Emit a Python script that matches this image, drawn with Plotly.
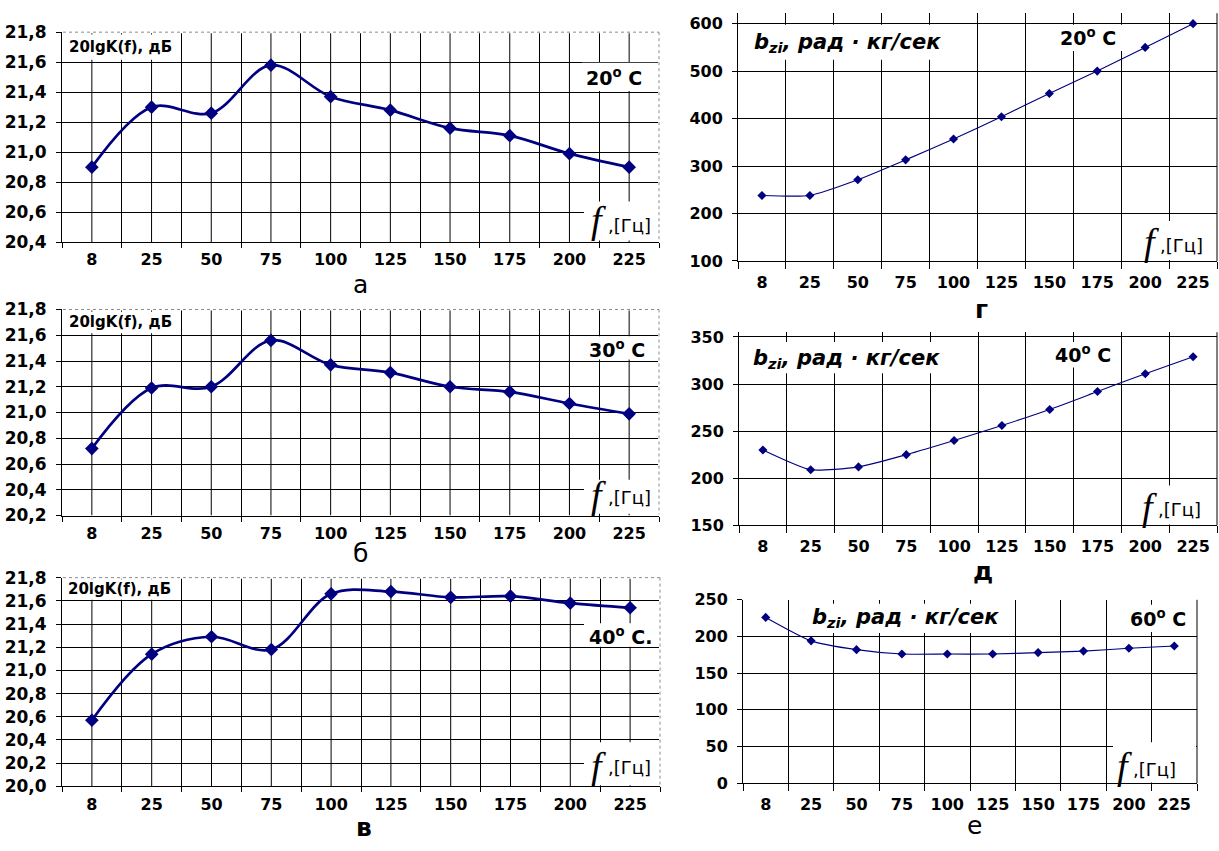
import plotly.graph_objects as go

W, H = 1219, 851
NAVY = "#000080"
FONT = "DejaVu Sans"

# Frequency categories, Hz
FREQ_HZ = ["8", "25", "50", "75", "100", "125", "150", "175", "200", "225"]

# 20lgK(f), dB at 20, 30 and 40 degrees C
GAIN_20C = [20.90, 21.30, 21.26, 21.58, 21.37, 21.28, 21.16, 21.11, 20.99, 20.90]
GAIN_30C = [20.72, 21.19, 21.20, 21.56, 21.37, 21.31, 21.20, 21.16, 21.07, 20.99]
GAIN_40C = [20.57, 21.14, 21.29, 21.18, 21.66, 21.68, 21.63, 21.64, 21.58, 21.54]

# b_zi, rad*kg/s at 20, 40 and 60 degrees C
BZ_20C = [238, 238, 271, 313, 357, 404, 453, 500, 550, 600]
BZ_40C = [230, 209, 212, 225, 240, 256, 273, 292, 311, 329]
BZ_60C = [226, 194, 182, 176, 176, 176, 178, 180, 184, 187]

# y tick values
GAIN_TICKS_A = [20.4, 20.6, 20.8, 21.0, 21.2, 21.4, 21.6, 21.8]
GAIN_TICKS_B = [20.2, 20.4, 20.6, 20.8, 21.0, 21.2, 21.4, 21.6, 21.8]
GAIN_TICKS_V = [20.0, 20.2, 20.4, 20.6, 20.8, 21.0, 21.2, 21.4, 21.6, 21.8]
BZ_TICKS_G = [100, 200, 300, 400, 500, 600]
BZ_TICKS_D = [150, 200, 250, 300, 350]
BZ_TICKS_E = [0, 50, 100, 150, 200, 250]

GAIN_LABEL = "20lgK(f), дБ"
BZ_LABEL = "b<sub>zi</sub>, рад · кг/сек"


def fx(v):
    return v / W


def fy(v):
    return 1 - v / H


panels = [
    dict(values=GAIN_20C, ticks=GAIN_TICKS_A, fmt=".1f", plot=(62, 22.7, 659, 237.7),
         yrange=(20.4, 21.8), left=True, temp="20<sup>o</sup> C", letter="а", letter_bold=False,
         letter_pos=(360, 281), name_box=(63, 25, 181, 51), name_pos=(67, 38),
         temp_box=(582, 54, 658, 83), temp_pos=(614, 69),
         f_box=(584, 196, 658, 236), f_pos=(598, 215), hz_pos=(606, 221)),
    dict(values=GAIN_30C, ticks=GAIN_TICKS_B, fmt=".1f", plot=(62, 306.7, 659, 517.7),
         yrange=(20.2, 21.8), left=True, temp="30<sup>o</sup> C", letter="б", letter_bold=False,
         letter_pos=(360, 557), name_box=(63, 309, 181, 331), name_pos=(67, 320),
         temp_box=(582, 334, 658, 358), temp_pos=(617, 347),
         f_box=(584, 481, 658, 516), f_pos=(598, 497), hz_pos=(606, 499)),
    dict(values=GAIN_40C, ticks=GAIN_TICKS_V, fmt=".1f", plot=(62, 581.3, 660, 795),
         yrange=(20.0, 21.8), left=True, temp="40<sup>o</sup> C.", letter="в", letter_bold=True,
         letter_pos=(364, 837), name_box=(63, 583, 179, 604), name_pos=(66, 593),
         temp_box=(584, 628, 659, 652), temp_pos=(620, 641),
         f_box=(584, 750, 659, 794), f_pos=(598, 774), hz_pos=(606, 776)),
    dict(values=BZ_20C, ticks=BZ_TICKS_G, fmt="d", plot=(738, 3.3, 1217, 257),
         yrange=(100, 622), left=False, temp="20<sup>o</sup> C", letter="г", letter_bold=True,
         letter_pos=(981, 307), name_box=(739, 15, 960, 51), name_pos=(752, 34),
         temp_box=(1052, 15, 1125, 42), temp_pos=(1088, 28),
         f_box=(1139, 216, 1216, 256), f_pos=(1151, 238), hz_pos=(1158, 241)),
    dict(values=BZ_40C, ticks=BZ_TICKS_D, fmt="d", plot=(739, 330, 1217, 527.7),
         yrange=(150, 355), left=False, temp="40<sup>o</sup> C", letter="д", letter_bold=True,
         letter_pos=(983, 575), name_box=(740, 340, 955, 372), name_pos=(751, 357),
         temp_box=(1047, 340, 1120, 366), temp_pos=(1083, 352),
         f_box=(1139, 487, 1216, 527), f_pos=(1149, 509), hz_pos=(1156, 512)),
    dict(values=BZ_60C, ticks=BZ_TICKS_E, fmt="d", plot=(743, 604, 1197, 791.7),
         yrange=(0, 250), left=False, temp="60<sup>o</sup> C", letter="е", letter_bold=False,
         letter_pos=(974, 835), name_box=(803, 608, 1002, 638), name_pos=(810, 623),
         temp_box=(1122, 609, 1195, 637), temp_pos=(1158, 623),
         f_box=(1113, 750, 1196, 791), f_pos=(1124, 774), hz_pos=(1131, 778)),
]

fig = go.Figure()
shapes = []
annotations = []
layout = {}

for i, p in enumerate(panels, start=1):
    xa = "x" if i == 1 else f"x{i}"
    ya = "y" if i == 1 else f"y{i}"
    x0, y0, x1, y1 = p["plot"]
    left = p["left"]
    ylo, yhi = p["yrange"]

    fig.add_trace(go.Scatter(
        x=FREQ_HZ, y=p["values"], xaxis=xa, yaxis=ya,
        mode="lines+markers", showlegend=False, cliponaxis=False,
        line=dict(color=NAVY, width=2.7 if left else 1.1, shape="spline",
                  smoothing=1.0 if left else 0.55),
        marker=dict(symbol="diamond", size=10.5 if left else 7, color=NAVY),
    ))

    x_font = dict(family=FONT, size=16, color="black", weight="bold")
    y_font = dict(family=FONT, size=17 if left else 16, color="black", weight="bold")
    layout["xaxis" if i == 1 else f"xaxis{i}"] = dict(
        domain=[fx(x0), fx(x1)], anchor=ya, type="category",
        categoryorder="array", categoryarray=FREQ_HZ, range=[-0.5, len(FREQ_HZ) - 0.5],
        tickson="boundaries", ticks="outside", ticklen=5 if left else 7,
        tickcolor="black", tickwidth=1,
        showgrid=True, gridcolor="black", gridwidth=1,
        showline=True, linecolor="black", linewidth=1,
        tickfont=x_font, ticklabelstandoff=3 if left else 7, fixedrange=True,
    )
    layout["yaxis" if i == 1 else f"yaxis{i}"] = dict(
        domain=[fy(y1), fy(y0)], anchor=xa, range=[ylo, yhi],
        tickmode="array", tickvals=p["ticks"], tickformat=p["fmt"],
        ticks="outside", ticklen=5, tickcolor="black", tickwidth=1,
        showgrid=True, gridcolor="black", gridwidth=1, zeroline=False,
        showline=True, linecolor="black", linewidth=1,
        tickfont=y_font, ticklabelstandoff=6, fixedrange=True,
    )

    # extra vertical grid through the category centres on the gain plots
    if left:
        for k, _cat in enumerate(FREQ_HZ):
            shapes.append(dict(type="line", xref=xa, yref=ya,
                               x0=k, x1=k, y0=ylo, y1=yhi, layer="below",
                               line=dict(color="black", width=1)))
        # dotted plot-area frame on top and right
        for col, dash, wid in (("white", "solid", 2), ("#8c8c8c", "dot", 1)):
            shapes.append(dict(type="line", xref="paper", yref="paper",
                               x0=fx(x0 + 1), x1=fx(x1), y0=fy(y0), y1=fy(y0),
                               line=dict(color=col, width=wid, dash=dash)))
            shapes.append(dict(type="line", xref="paper", yref="paper",
                               x0=fx(x1), x1=fx(x1), y0=fy(y0), y1=fy(y1 - 1),
                               line=dict(color=col, width=wid, dash=dash)))
    else:
        shapes.append(dict(type="line", xref="paper", yref="paper",
                           x0=fx(x1), x1=fx(x1), y0=fy(y0), y1=fy(y1),
                           line=dict(color="black", width=1)))

    # white text boxes
    for key in ("name_box", "temp_box", "f_box"):
        bx0, by0, bx1, by1 = p[key]
        shapes.append(dict(type="rect", xref="paper", yref="paper",
                           x0=fx(bx0), x1=fx(bx1), y0=fy(by1), y1=fy(by0),
                           fillcolor="white", line=dict(width=0), layer="above"))

    if left:
        annotations.append(dict(text=GAIN_LABEL, x=fx(p["name_pos"][0]), y=fy(p["name_pos"][1]),
                                xanchor="left", yanchor="middle",
                                font=dict(family=FONT, size=15, color="black", weight="bold")))
    else:
        annotations.append(dict(text=BZ_LABEL, x=fx(p["name_pos"][0]), y=fy(p["name_pos"][1]),
                                xanchor="left", yanchor="middle",
                                font=dict(family=FONT, size=21, color="black",
                                          weight="bold", style="italic")))
    annotations.append(dict(text=p["temp"], x=fx(p["temp_pos"][0]), y=fy(p["temp_pos"][1]),
                            xanchor="center", yanchor="middle",
                            font=dict(family=FONT, size=19, color="black", weight="bold")))
    annotations.append(dict(text="f", x=fx(p["f_pos"][0]), y=fy(p["f_pos"][1]),
                            xanchor="center", yanchor="middle",
                            font=dict(family="Liberation Serif", size=38, color="black",
                                      style="italic")))
    annotations.append(dict(text=",[Гц]", x=fx(p["hz_pos"][0]), y=fy(p["hz_pos"][1]),
                            xanchor="left", yanchor="middle",
                            font=dict(family=FONT, size=18, color="black")))
    annotations.append(dict(text=p["letter"], x=fx(p["letter_pos"][0]), y=fy(p["letter_pos"][1]),
                            xanchor="center", yanchor="middle",
                            font=dict(family=FONT, size=25, color="black",
                                      weight="bold" if p["letter_bold"] else "normal")))

for a in annotations:
    a.update(xref="paper", yref="paper", showarrow=False, borderpad=1)

fig.update_layout(
    width=W, height=H, autosize=False,
    margin=dict(l=0, r=0, t=0, b=0),
    paper_bgcolor="white", plot_bgcolor="rgba(0,0,0,0)",
    separators=", ",
    shapes=shapes, annotations=annotations,
    font=dict(family=FONT, color="black"),
    **layout,
)

fig.write_html("out.html")
